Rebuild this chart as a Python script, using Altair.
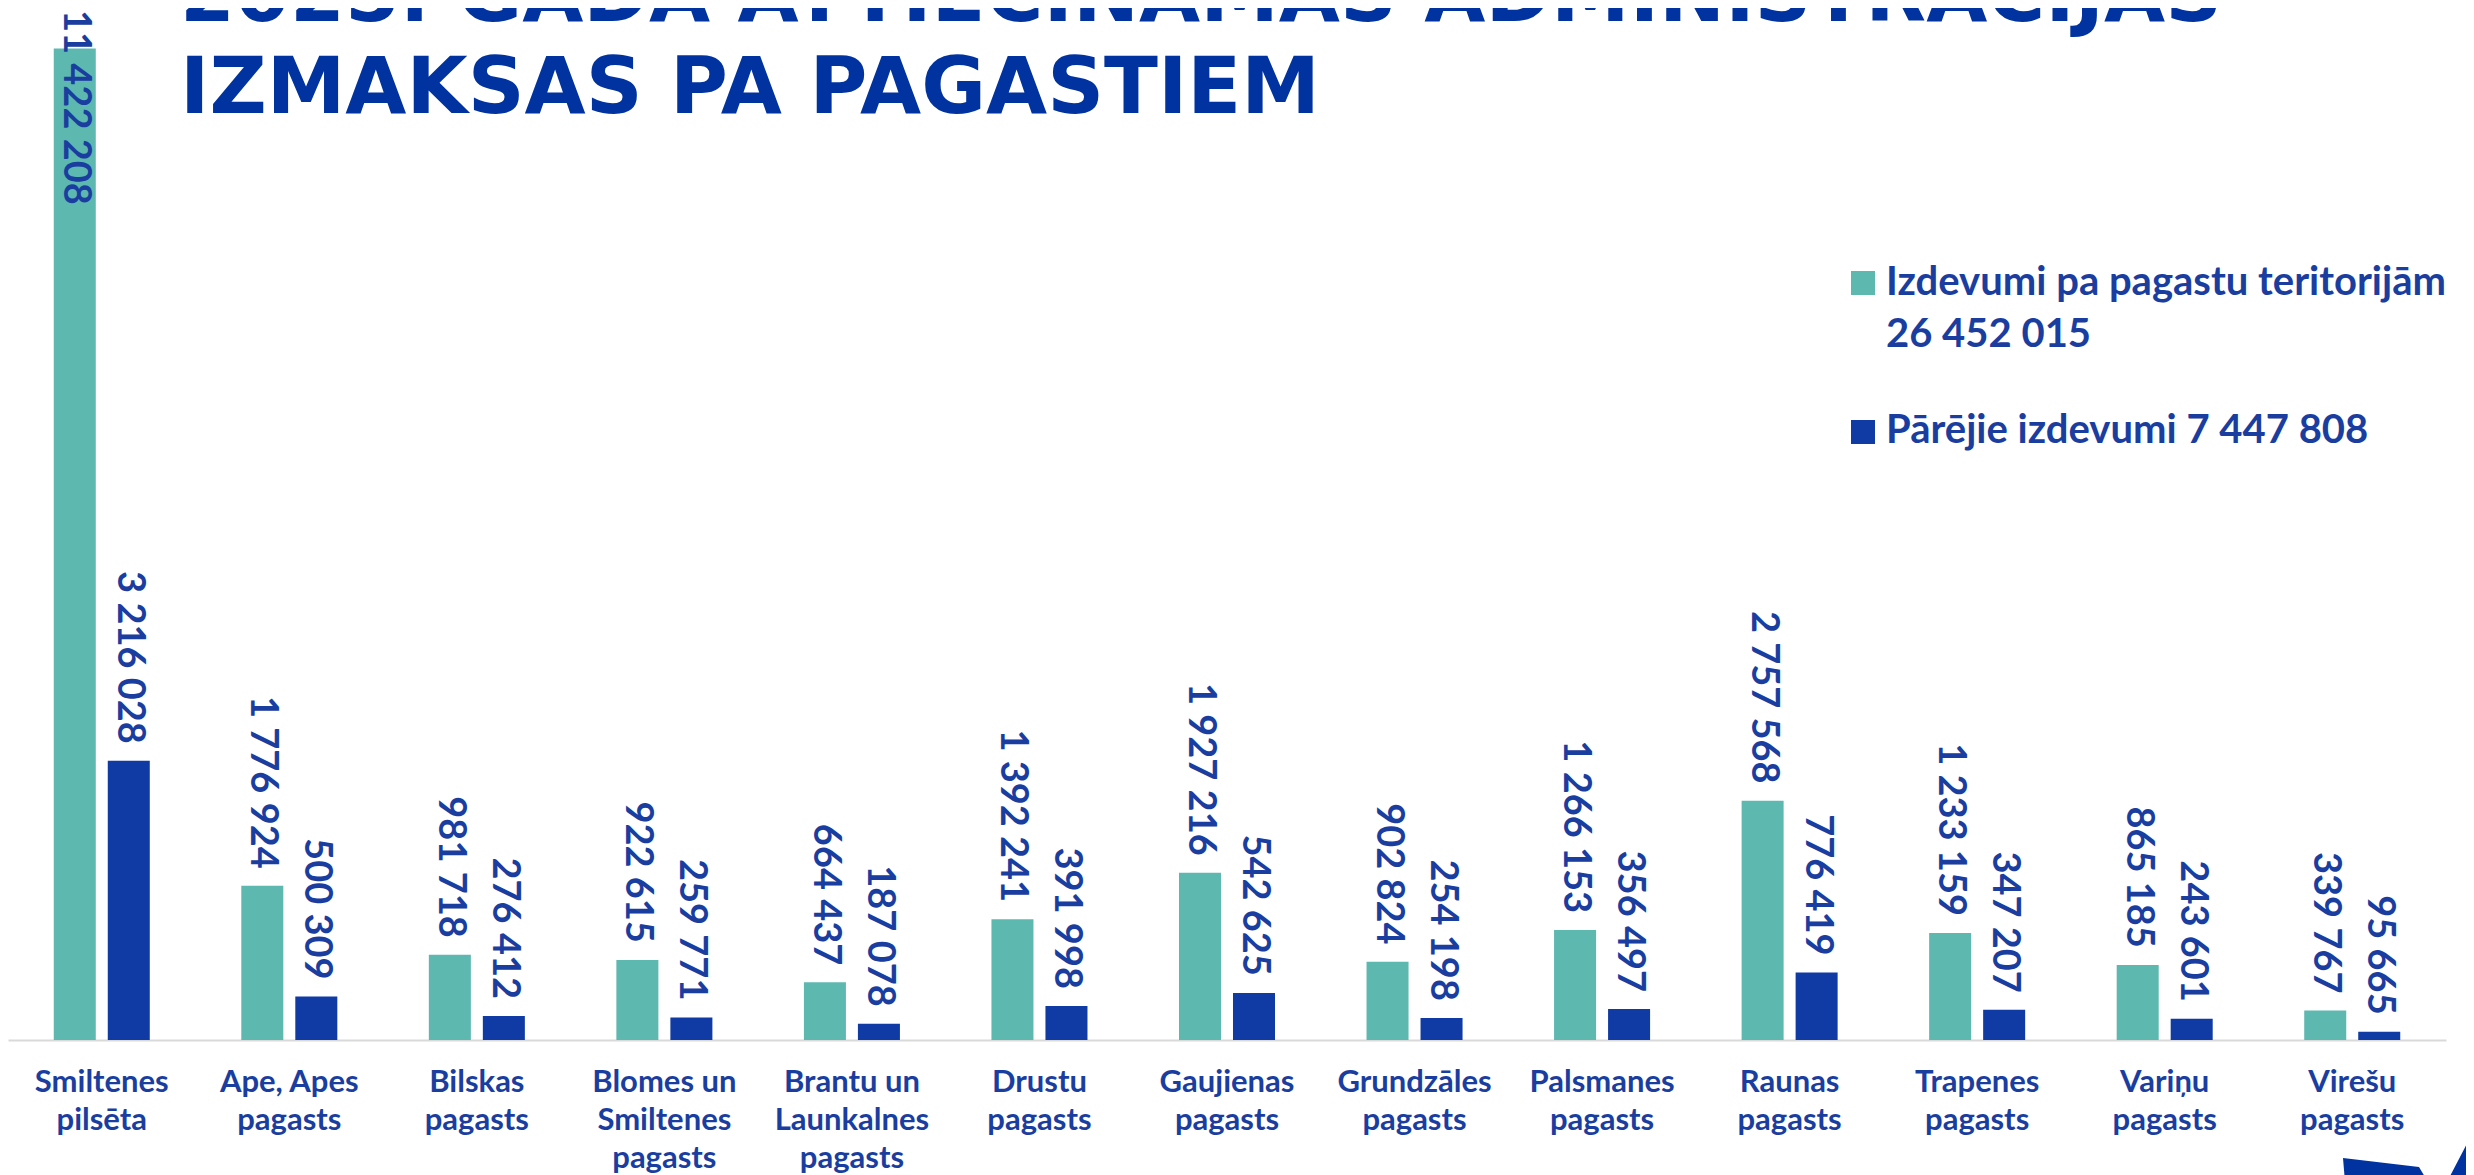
import altair as alt
import pandas as pd

categories = [
    "Smiltenes\npilsēta", "Ape, Apes\npagasts", "Bilskas\npagasts",
    "Blomes un\nSmiltenes\npagasts", "Brantu un\nLaunkalnes\npagasts",
    "Drustu\npagasts", "Gaujienas\npagasts", "Grundzāles\npagasts",
    "Palsmanes\npagasts", "Raunas\npagasts", "Trapenes\npagasts",
    "Variņu\npagasts", "Virešu\npagasts",
]
series = ["Izdevumi pa pagastu teritorijām", "Pārējie izdevumi"]
teritorijas = [11422208, 1776924, 981718, 922615, 664437, 1392241, 1927216,
               902824, 1266153, 2757568, 1233159, 865185, 339767]
parejie = [3216028, 500309, 276412, 259771, 187078, 391998, 542625,
           254198, 356497, 776419, 347207, 243601, 95665]
legend_lines = [["Izdevumi pa pagastu teritorijām", "26 452 015"],
                ["Pārējie izdevumi 7 447 808"]]
title_lines = ["2025. GADA ATTIECINĀMĀS ADMINISTRĀCIJAS", "IZMAKSAS PA PAGASTIEM"]

colors = ["#5db8b0", "#103ba5"]
text_color = "#1a3ea0"
title_color = "#0033a0"

rows = []
for i, c in enumerate(categories):
    for s, vals in zip(series, [teritorijas, parejie]):
        rows.append({"kat": c, "serija": s, "vertiba": vals[i],
                     "teksts": f"{vals[i]:,}".replace(",", " ")})
df = pd.DataFrame(rows)

x = alt.X("kat:N", sort=categories,
          scale=alt.Scale(paddingInner=0.488, paddingOuter=0.244),
          axis=alt.Axis(title=None, ticks=False, labelAngle=0,
                        labelExpr="split(datum.label, '\\n')",
                        labelFont="Lato", labelFontSize=31, labelFontWeight="bold",
                        labelColor=text_color, labelLineHeight=38, labelPadding=27,
                        labelLimit=400, labelOverlap=False,
                        domainColor="#d9d9d9", domainWidth=2))
xo = alt.XOffset("serija:N", sort=series,
                 scale=alt.Scale(paddingInner=0.222, paddingOuter=0))
y = alt.Y("vertiba:Q", scale=alt.Scale(domain=[0, 11890000], nice=False), axis=None)

base = alt.Chart(df)
bars = base.mark_bar().encode(
    x=x, xOffset=xo, y=y,
    color=alt.Color("serija:N", scale=alt.Scale(domain=series, range=colors), legend=None),
)
labels = base.transform_filter("datum.vertiba < 10000000").mark_text(
    angle=90, align="right", baseline="middle", dx=-17,
    font="Lato", fontSize=38, fontWeight="bold", color=text_color,
).encode(x=x, xOffset=xo, y=y, text="teksts:N")
labels_top = base.transform_filter("datum.vertiba >= 10000000").mark_text(
    angle=90, align="left", baseline="middle",
    font="Lato", fontSize=38, fontWeight="bold", color=text_color,
).encode(x=x, xOffset=xo, y=alt.value(2), text="teksts:N")

one = pd.DataFrame({"k": [0]})
title = alt.Chart(one).mark_text(
    align="left", baseline="alphabetic", font="DejaVu Sans", fontSize=79,
    fontWeight="bold", color=title_color, lineHeight=92,
).encode(x=alt.value(172), y=alt.value(13), text=alt.value(title_lines))

legend_layers = []
sq_y = [275, 424]
tx_y = [287, 435]
for i in range(2):
    legend_layers.append(alt.Chart(one).mark_square(size=576, opacity=1, color=colors[i]).encode(
        x=alt.value(1855), y=alt.value(sq_y[i])))
    legend_layers.append(alt.Chart(one).mark_text(
        align="left", baseline="alphabetic", font="Lato", fontSize=40, fontWeight="bold",
        color=text_color, lineHeight=52,
    ).encode(x=alt.value(1878), y=alt.value(tx_y[i]), text=alt.value(legend_lines[i])))

deco_path = ("M -0.57 0.08 L 0.19 0.17 L 0.28 0.32 L -0.55 0.32 Z "
             "M 0.48 0.30 L 0.74 -0.20 L 0.95 -0.20 L 0.95 0.30 Z")
deco = alt.Chart(one).mark_point(shape=deco_path, filled=True, size=40000, opacity=1,
                                 color=title_color, strokeWidth=0).encode(
    x=alt.value(2392), y=alt.value(1142))

chart = alt.layer(bars, labels, labels_top, title, *legend_layers, deco).properties(
    width=2438, height=1032,
    autosize=alt.AutoSizeParams(type="none"),
    padding={"left": 0, "top": 0, "right": 20, "bottom": 135},
    background="white",
).configure_view(stroke=None)

chart.save("out.html", embed_options={"renderer": "svg", "actions": False})
